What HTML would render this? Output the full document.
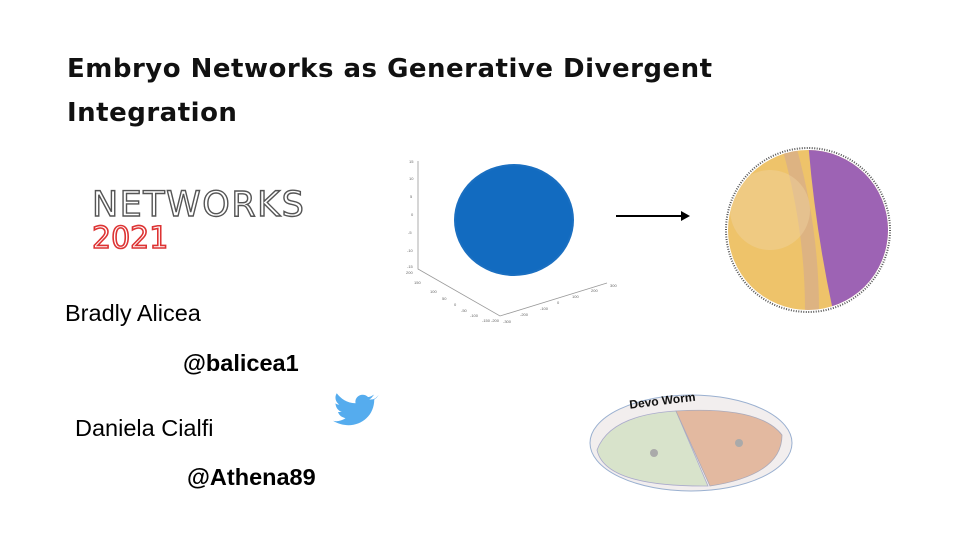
<!DOCTYPE html>
<html><head><meta charset="utf-8"><style>
body{margin:0;width:960px;height:540px;background:#fff;overflow:hidden;position:relative;font-family:"Liberation Sans",sans-serif}
.t{position:absolute;font-family:"DejaVu Sans","Liberation Sans",sans-serif;font-weight:bold;font-size:26px;color:#111;left:67px;letter-spacing:0.5px}
.n{position:absolute;font-size:23.5px;color:#000}
.h{position:absolute;font-size:23.5px;font-weight:bold;color:#000}
</style></head><body>
<div class="t" style="top:54px">Embryo Networks as Generative Divergent</div>
<div class="t" style="top:98px">Integration</div>
<div style="position:absolute;left:92px;top:188px;font-family:'DejaVu Sans',sans-serif;font-size:35px;color:#fff;-webkit-text-stroke:1.4px #555;letter-spacing:1.5px;line-height:1">NETWORKS</div>
<div style="position:absolute;left:92px;top:224px;font-family:'DejaVu Sans',sans-serif;font-size:30px;color:#fff;-webkit-text-stroke:1.6px #d33;letter-spacing:0px;line-height:1">2021</div>
<div class="n" style="left:65px;top:300px">Bradly Alicea</div>
<div class="h" style="left:183px;top:350px">@balicea1</div>
<div class="n" style="left:75px;top:415px">Daniela Cialfi</div>
<div class="h" style="left:187px;top:464px">@Athena89</div>
<svg width="960" height="540" style="position:absolute;left:0;top:0">
<g transform="translate(328 392) scale(1.25) translate(-334 -390)">
<path d="M372 395c-2 1-3 1-5 1 2-1 3-3 4-4-2 1-3 2-5 2-4-4-11-1-10 5-7 0-12-4-15-8-2 3-1 7 2 9-1 0-2 0-3-1 0 3 2 6 5 7-1 0-2 0-3 0 1 3 3 4 6 5-3 2-7 3-10 2 15 9 33 0 33-17 2-1 3-3 4-4z" fill="#55acee"/>
</g>
<g stroke="#999" stroke-width="0.8" fill="none">
<path d="M418 161V269L500 316L607 283"/>
</g>
<g font-size="4" fill="#666">
<text x="409" y="163">15</text><text x="409" y="180">10</text><text x="410" y="198">5</text><text x="411" y="216">0</text><text x="408" y="234">-5</text><text x="407" y="252">-10</text><text x="407" y="268">-15</text>
<text x="406" y="274">200</text><text x="414" y="284">150</text><text x="430" y="293">100</text><text x="442" y="300">50</text><text x="454" y="306">0</text><text x="461" y="312">-50</text><text x="470" y="317">-100</text><text x="482" y="322">-150</text><text x="491" y="322">-200</text>
<text x="503" y="323">-300</text><text x="520" y="316">-200</text><text x="540" y="310">-100</text><text x="557" y="304">0</text><text x="572" y="298">100</text><text x="591" y="292">200</text><text x="610" y="287">300</text>
</g>
<ellipse cx="514" cy="220" rx="60" ry="56" fill="#1a6fc1"/>
<ellipse cx="514" cy="220" rx="58" ry="54" fill="#0f6abf" opacity="0.7"/>
<line x1="616" y1="216" x2="682" y2="216" stroke="#000" stroke-width="2"/>
<polygon points="681,211 690,216 681,221" fill="#000"/>
<defs><clipPath id="c"><circle cx="808" cy="230" r="80"/></clipPath></defs>
<circle cx="808" cy="230" r="82" fill="none" stroke="#555" stroke-width="2" stroke-dasharray="1 1.5"/>
<g clip-path="url(#c)">
<rect x="720" y="140" width="180" height="180" fill="#eec36a"/>
<path d="M808 140Q815 230 835 320H900V140Z" fill="#9d63b4"/>
<path d="M790 150Q812 230 812 310" stroke="#c8a0a0" stroke-width="14" fill="none" opacity="0.45"/>
<ellipse cx="770" cy="210" rx="40" ry="40" fill="#f0d3a0" opacity="0.45"/>
</g>
<ellipse cx="691" cy="443" rx="101" ry="48" fill="#f2eeee" stroke="#9ab0d0" stroke-width="1"/>
<path d="M676 411Q610 415 597 450Q605 487 708 486Z" fill="#d8e3cb" stroke="#aac" stroke-width="0.8"/>
<path d="M676 411Q760 406 782 435Q782 475 710 486Z" fill="#e3b9a0" stroke="#aab" stroke-width="0.8"/>
<circle cx="654" cy="453" r="4" fill="#aaa"/>
<circle cx="739" cy="443" r="4" fill="#aaa"/>
<text x="629" y="405" font-size="12" font-weight="bold" fill="#111" transform="rotate(-7 660 400)">Devo Worm</text>
</svg>
</body></html>
